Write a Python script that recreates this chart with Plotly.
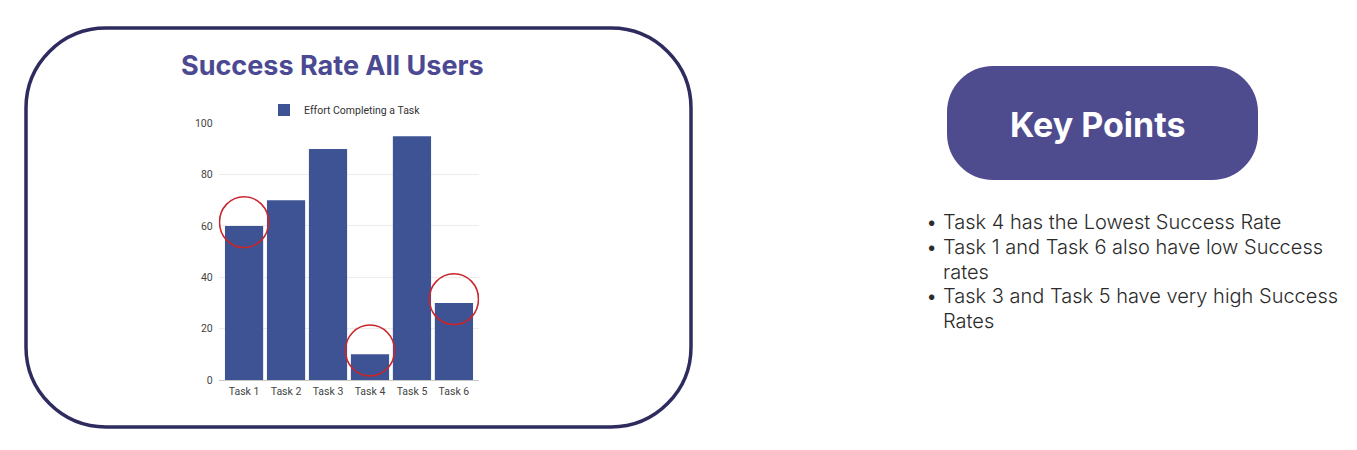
import plotly.graph_objects as go

W, H = 1357, 450
OX, OY = 8, 8  # page body margin offset

tasks = ["Task 1", "Task 2", "Task 3", "Task 4", "Task 5", "Task 6"]
success = [60, 70, 90, 10, 95, 30]
highlighted = ["Task 1", "Task 4", "Task 6"]
series_name = "Effort Completing a Task"
chart_title = "Success Rate All Users"
key_title = "Key Points"
bullet_lines = [
    ("•", "Task 4 has the Lowest Success Rate"),
    ("•", "Task 1 and Task 6 also have low Success"),
    ("", "rates"),
    ("•", "Task 3 and Task 5 have very high Success"),
    ("", "Rates"),
]
y_ticks = [0, 20, 40, 60, 80, 100]

BAR = "#3d5394"
NAVY = "#2e2c5f"
PURPLE = "#4f4b8f"
TITLE_C = "#4a4992"


def px(x):
    return (x - OX) / W


def py(y):
    return 1 - (y - OY) / H


fig = go.Figure()
fig.add_trace(go.Bar(x=tasks, y=success, name=series_name, marker_color=BAR,
                     marker_line_width=0, showlegend=True))


def rrect(x0, y0, x1, y1, r):
    k = 0.5523 * r

    def P(x, y):
        return f"{px(x):.5f},{py(y):.5f}"
    return (f"M {P(x0+r,y0)} L {P(x1-r,y0)} C {P(x1-r+k,y0)} {P(x1,y0+r-k)} {P(x1,y0+r)} "
            f"L {P(x1,y1-r)} C {P(x1,y1-r+k)} {P(x1-r+k,y1)} {P(x1-r,y1)} "
            f"L {P(x0+r,y1)} C {P(x0+r-k,y1)} {P(x0,y1-r+k)} {P(x0,y1-r)} "
            f"L {P(x0,y0+r)} C {P(x0,y0+r-k)} {P(x0+r-k,y0)} {P(x0+r,y0)} Z")


shapes = [
    dict(type="path", xref="paper", yref="paper", path=rrect(26, 28, 691, 427, 80),
         line=dict(color=NAVY, width=3.5), fillcolor="rgba(0,0,0,0)", layer="below"),
    dict(type="path", xref="paper", yref="paper", path=rrect(947, 66, 1258, 180, 46),
         line=dict(width=0), fillcolor=PURPLE, layer="below"),
]
for t in highlighted:
    i = tasks.index(t)
    v = success[i] + 1.5
    shapes.append(dict(type="circle", xref="x", yref="y",
                       x0=i - 0.585, x1=i + 0.585, y0=v - 9.9, y1=v + 9.9,
                       line=dict(color="#c8262c", width=1.6), layer="above"))

annotations = [
    dict(xref="paper", yref="paper", x=px(332), y=py(65), text=f"<b>{chart_title}</b>",
         showarrow=False, font=dict(family="Inter", size=27, color=TITLE_C),
         xanchor="center", yanchor="middle"),
    dict(xref="paper", yref="paper", x=px(1098), y=py(124), text=f"<b>{key_title}</b>",
         showarrow=False, font=dict(family="Inter", size=34, color="white"),
         xanchor="center", yanchor="middle"),
]
y0 = 222
for j, (b, line) in enumerate(bullet_lines):
    yy = y0 + 24.8 * j
    if b:
        annotations.append(dict(xref="paper", yref="paper", x=px(924), y=py(yy), text=b,
                                showarrow=False,
                                font=dict(family="Inter", size=20, color="#2b2b2b", weight=300),
                                xanchor="left", yanchor="middle"))
    annotations.append(dict(xref="paper", yref="paper", x=px(941), y=py(yy), text=line,
                            showarrow=False,
                            font=dict(family="Inter", size=20, color="#2b2b2b", weight=300),
                            xanchor="left", yanchor="middle"))

fig.update_layout(
    width=W, height=H, margin=dict(l=0, r=0, t=0, b=0, autoexpand=False),
    paper_bgcolor="white", plot_bgcolor="white",
    bargap=0.09,
    font=dict(family="Roboto", color="#444"),
    xaxis=dict(domain=[px(218.7), px(479.3)], showgrid=False, ticks="",
               tickfont=dict(size=10.5, color="#444"), showline=False, zeroline=False,
               fixedrange=True, ticklabelstandoff=3),
    yaxis=dict(domain=[py(380), py(123.3)], range=[0, 100], tickvals=y_ticks,
               showgrid=True, gridcolor="#ececec", gridwidth=1, zeroline=True,
               zerolinecolor="#c8c8c8", zerolinewidth=1, ticks="",
               tickfont=dict(size=10.5, color="#444"), ticklabelstandoff=5),
    legend=dict(orientation="h", x=px(345), y=py(110), xanchor="center", yanchor="middle",
                font=dict(size=10.5, color="#333"), bgcolor="rgba(0,0,0,0)",
                itemwidth=30),
    shapes=shapes, annotations=annotations,
)

fig.write_html("out.html")
